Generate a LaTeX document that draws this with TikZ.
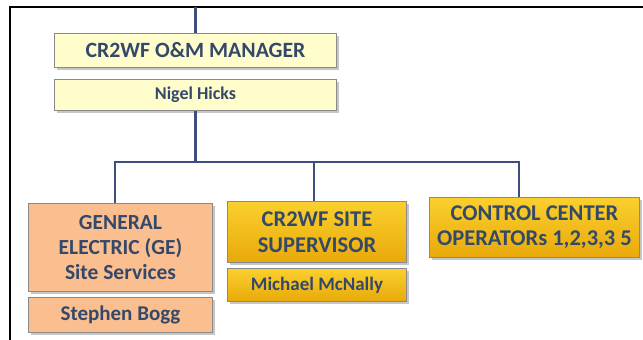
\documentclass[tikz,border=0pt]{standalone}
\usepackage{xcolor}
\usepackage{fontspec}
\usepackage{tikz}
\usetikzlibrary{shadows}
\setmainfont{Carlito}

\definecolor{inkblue}{HTML}{34496A}
\definecolor{linkblue}{HTML}{3E4E7E}
\definecolor{boxgray}{HTML}{8A8A8A}
\definecolor{palefill}{HTML}{FFFDCC}
\definecolor{peachfill}{HTML}{FBBE8E}
\definecolor{goldtop}{HTML}{FAD02E}
\definecolor{goldbot}{HTML}{E8A90A}

\newcommand{\fs}[2]{\bfseries\fontsize{#1}{#2}\selectfont}

\tikzset{
  box/.style={draw=boxgray, line width=0.9pt, inner sep=0pt, align=center,
    text=inkblue,
    drop shadow={shadow xshift=2pt, shadow yshift=-2.5pt, opacity=0.45}},
  pale/.style={box, fill=palefill},
  peach/.style={box, fill=peachfill},
  gold/.style={box, top color=goldtop, bottom color=goldbot},
  link/.style={draw=linkblue, line width=2.2pt}
}

\begin{document}
\begin{tikzpicture}[x=1pt, y=-1pt]
    \useasboundingbox (0,0) rectangle (643,340);

    % frame
    \draw[line width=2.5pt, black] (643,7) -- (10,7) -- (10,340);

    \node[pale, minimum width=282pt, minimum height=34pt, font=\fs{21.8}{24}] (mgr) at (195.5,50.5)
        {CR2WF O\&M MANAGER};
    \node[pale, minimum width=282pt, minimum height=31pt, font=\fs{18}{20}] (nigel) at (195.5,95)
        {Nigel Hicks};

    \node[peach, minimum width=184pt, minimum height=88pt, font=\fs{21.5}{25}] (ge) at (120.5,247.5)
        {GENERAL\\ELECTRIC (GE)\\Site Services};
    \node[peach, minimum width=184pt, minimum height=35pt, font=\fs{21}{22}] (bogg) at (120.5,315)
        {Stephen Bogg};

    \node[gold, minimum width=179pt, minimum height=61pt, font=\fs{22.5}{26}] (sup) at (317,232)
        {CR2WF SITE\\SUPERVISOR};
    \node[gold, minimum width=179pt, minimum height=33pt, font=\fs{19}{20}] (mcn) at (317,285)
        {Michael McNally};

    \node[gold, minimum width=210pt, minimum height=60pt, font=\fs{22.5}{25}] (ctrl) at (534.5,227.5)
        {CONTROL CENTER\\OPERATORs 1,2,3,3 5};

    \coordinate (top) at (195.5,7);
    \coordinate (bus) at (196,162);

    \draw[link] (top) -- (mgr.north);
    \draw[link] (nigel.south) -- (nigel.south |- bus);
    \draw[link] ([xshift=-5.5pt]ge.north) |- ([xshift=-15.5pt]ctrl.north |- bus)
        -- ([xshift=-15.5pt]ctrl.north);
    \draw[link] ([xshift=-3pt]sup.north) -- ([xshift=-3pt]sup.north |- bus);
\end{tikzpicture}
\end{document}
